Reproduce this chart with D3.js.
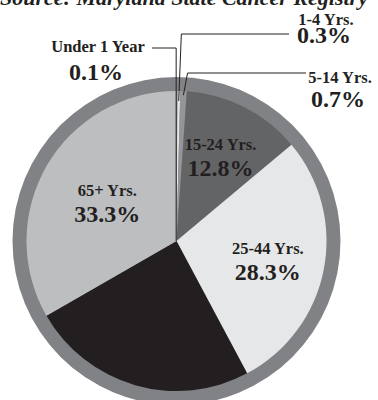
<!DOCTYPE html>
<html>
<head>
<meta charset="utf-8">
<script src="https://cdn.jsdelivr.net/npm/d3@7"></script>
<style>
  body { margin: 0; background: #fff; }
  svg { display: block; font-family: "Liberation Serif", "Times New Roman", serif; font-weight: bold; }
</style>
</head>
<body>
<div id="chart"></div>
<script>
// age groups, clockwise from 12 o'clock
const categories = ['Under 1 Year', '1-4 Yrs.', '5-14 Yrs.', '15-24 Yrs.', '25-44 Yrs.', '45-64 Yrs.', '65+ Yrs.'];
const values = [0.1, 0.3, 0.7, 12.8, 28.3, 24.5, 33.3];
const labels = ['0.1%', '0.3%', '0.7%', '12.8%', '28.3%', '', '33.3%'];
const title = 'Source: Maryland State Cancer Registry';

const width = 378, height = 400;
const cx = 176.5, cy = 241;
const r = 150, ringR = 164;

const data = categories.map((c, i) => ({ cat: c, value: values[i], label: labels[i] }));

const color = d3.scaleOrdinal()
    .domain(categories)
    .range(['#231f20', '#e6e7e8', '#939598', '#636466', '#e6e7e8', '#231f20', '#bcbec0']);

const svg = d3.select('#chart').append('svg')
    .attr('width', width)
    .attr('height', height);

// title, cut off at the top edge
svg.append('text')
    .attr('x', 184)
    .attr('y', 5)
    .attr('text-anchor', 'middle')
    .style('font-size', '22px')
    .style('font-style', 'italic')
    .attr('fill', '#231f20')
    .text(title);

const g = svg.append('g').attr('transform', 'translate(' + cx + ',' + cy + ')');

// grey rim
g.append('circle').attr('r', ringR).attr('fill', '#808285');

const pie = d3.pie().sort(null).value(d => d.value);
const arcs = pie(data);
const arc = d3.arc().innerRadius(0).outerRadius(r);

g.selectAll('path.slice')
    .data(arcs)
    .enter().append('path')
    .attr('class', 'slice')
    .attr('d', arc)
    .attr('fill', d => color(d.data.cat));

// inside labels
const inside = {
    '15-24 Yrs.': 97,
    '25-44 Yrs.': 93,
    '65+ Yrs.': 80
};
arcs.filter(d => inside[d.data.cat]).forEach(d => {
    const a = (d.startAngle + d.endAngle) / 2;
    const rr = inside[d.data.cat];
    const x = Math.sin(a) * rr, y = -Math.cos(a) * rr;
    const t = g.append('text').attr('text-anchor', 'middle').attr('fill', '#231f20');
    t.append('tspan').attr('x', x).attr('y', y - 5).style('font-size', '16.5px').text(d.data.cat);
    t.append('tspan').attr('x', x).attr('y', y + 21).style('font-size', '24px').text(d.data.label);
});

// outside labels for the thin slices
const outside = [
    { i: 0, lx: 98, ly: 52, pct: 80, knee: [152, 48], edgeR: 0 },
    { i: 1, lx: 326, ly: 25, pct: 43, knee: [289, 34], edgeR: 140 },
    { i: 2, lx: 340, ly: 83, pct: 107, knee: [306, 73], edgeR: 146 }
];
outside.forEach(o => {
    const d = arcs[o.i];
    const a = (d.startAngle + d.endAngle) / 2;
    const ex = Math.sin(a) * r + cx;
    let pts;
    if (o.i === 0) {
        pts = [o.knee, [ex - 0.8, o.knee[1]], [ex - 0.8, cy]];
    } else if (o.i === 1) {
        pts = [o.knee, [ex + 2.5, o.knee[1]], [Math.sin(a) * o.edgeR + cx, cy - Math.cos(a) * o.edgeR]];
    } else {
        pts = [o.knee, [ex + 4, o.knee[1]], [Math.sin(a) * o.edgeR + cx, cy - Math.cos(a) * o.edgeR]];
    }
    svg.append('path')
        .attr('d', d3.line()(pts))
        .attr('fill', 'none')
        .attr('stroke', '#231f20')
        .attr('stroke-width', 1);
    const t = svg.append('text').attr('text-anchor', 'middle').attr('fill', '#231f20');
    t.append('tspan').attr('x', o.lx).attr('y', o.ly).style('font-size', '16.5px').text(d.data.cat);
    t.append('tspan').attr('x', o.lx - 2).attr('y', o.pct).style('font-size', '24px').text(d.data.label);
});
</script>
</body>
</html>
